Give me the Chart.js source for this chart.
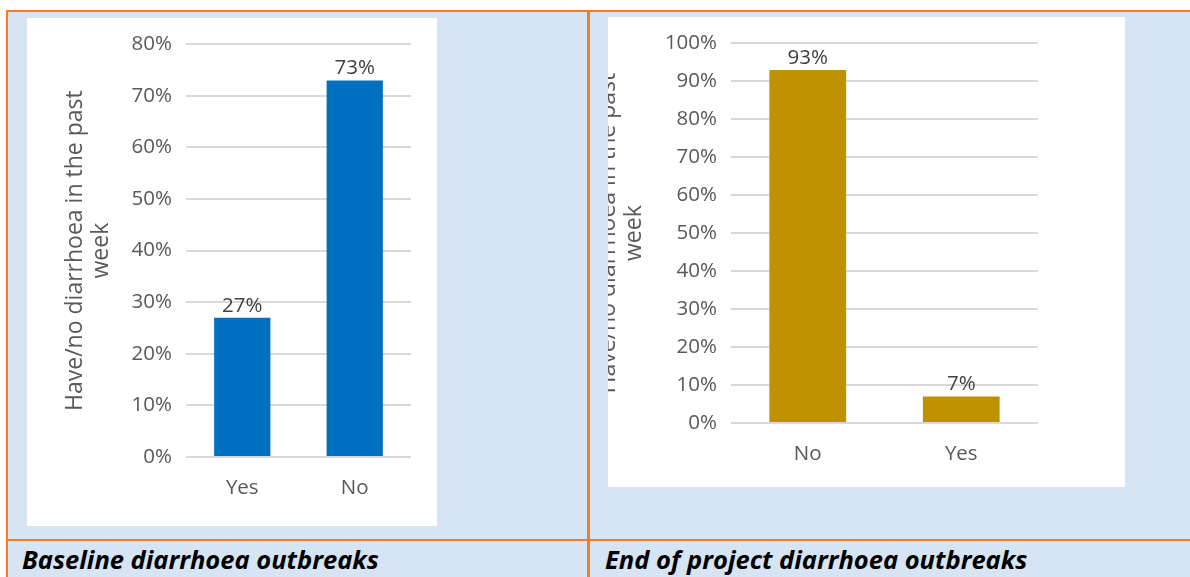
<!DOCTYPE html>
<html>
<head>
<meta charset="utf-8">
<script src="https://cdn.jsdelivr.net/npm/chart.js@4/dist/chart.umd.min.js"></script>
<style>
  body { margin: 0; background: #fff; width: 1190px; height: 577px; overflow: hidden; position: relative; font-family: "Open Sans", sans-serif; }
  .cell { position: absolute; background: #d6e4f3; }
  .line { position: absolute; background: #ed7d31; }
  .box { position: absolute; background: #fff; overflow: hidden; box-shadow: 0 0 0 1px #e2e2e2; }
  .box canvas { position: absolute; top: 0; }
  .caption { position: absolute; font-weight: 700; font-style: italic; font-size: 25.5px; color: #000; white-space: nowrap; line-height: 1; }
</style>
</head>
<body>
  <!-- table cells -->
  <div class="cell" style="left:8px;top:12px;width:579px;height:527px"></div>
  <div class="cell" style="left:590px;top:12px;width:600px;height:527px"></div>
  <div class="cell" style="left:8px;top:541px;width:579px;height:36px"></div>
  <div class="cell" style="left:590px;top:541px;width:600px;height:36px"></div>
  <!-- table borders -->
  <div class="line" style="left:6px;top:10px;width:1184px;height:2px"></div>
  <div class="line" style="left:6px;top:10px;width:2px;height:567px"></div>
  <div class="line" style="left:587px;top:10px;width:3px;height:567px"></div>
  <div class="line" style="left:6px;top:539px;width:1184px;height:2px"></div>

  <div class="box" style="left:27px;top:18px;width:410px;height:508px">
    <canvas id="baseline" width="410" height="508" style="left:0"></canvas>
  </div>
  <div class="box" style="left:608px;top:17px;width:517px;height:470px">
    <canvas id="endProject" width="547" height="470" style="left:-30px"></canvas>
  </div>

  <div class="caption" style="left:22px;top:547px">Baseline diarrhoea outbreaks</div>
  <div class="caption" style="left:605px;top:547px">End of project diarrhoea outbreaks</div>

<script>
const baselineLabels = ['Yes', 'No'];
const baselineValues = [27, 73];
const baselineMax = 80;

const endLabels = ['No', 'Yes'];
const endValues = [93, 7];
const endMax = 100;

const yTitle = ['Have/no diarrhoea in the past', 'week'];

const tickColor = '#595959';
const gridColor = '#d9d9d9';
const tickSize = 20.5;

// percentage text above each bar
const valueLabels = {
  id: 'valueLabels',
  afterDatasetsDraw(chart) {
    const ctx = chart.ctx;
    const values = chart.data.datasets[0].data;
    ctx.save();
    ctx.font = tickSize + 'px "Open Sans"';
    ctx.fillStyle = '#404040';
    ctx.textAlign = 'center';
    ctx.textBaseline = 'alphabetic';
    chart.getDatasetMeta(0).data.forEach((bar, i) => {
      ctx.fillText(values[i] + '%', bar.x, bar.y - 6);
    });
    ctx.restore();
  }
};

function makeChart(id, labels, values, max, color, pad, titlePad, yWidth, xHeight) {
  return new Chart(document.getElementById(id), {
    type: 'bar',
    data: {
      labels: labels,
      datasets: [{
        data: values,
        backgroundColor: color,
        barPercentage: 0.5,
        categoryPercentage: 1
      }]
    },
    options: {
      responsive: false,
      animation: false,
      layout: { padding: pad },
      plugins: { legend: { display: false }, tooltip: { enabled: false } },
      scales: {
        x: {
          grid: { display: false },
          border: { display: false },
          ticks: { color: tickColor, font: { family: 'Open Sans', size: tickSize }, padding: 11 },
          afterFit: (s) => { s.height = xHeight; }
        },
        y: {
          min: 0,
          max: max,
          ticks: {
            stepSize: 10,
            color: tickColor,
            font: { family: 'Open Sans', size: tickSize },
            padding: 14,
            callback: (v) => v + '%'
          },
          grid: { color: gridColor, lineWidth: 2, drawTicks: false },
          border: { display: false },
          title: {
            display: true,
            text: yTitle,
            color: tickColor,
            font: { family: 'Open Sans', size: 23, lineHeight: 1.13 },
            padding: { top: titlePad, bottom: 0 }
          },
          afterFit: (s) => { s.width = yWidth; }
        }
      }
    },
    plugins: [valueLabels]
  });
}

makeChart('baseline', baselineLabels, baselineValues, baselineMax, '#0070c0',
  { left: 30, right: 26, top: 25, bottom: 0 }, 5, 129, 69);
makeChart('endProject', endLabels, endValues, endMax, '#bf9000',
  { left: 16, right: 87, top: 26, bottom: 0 }, 1, 137, 64);
</script>
</body>
</html>
